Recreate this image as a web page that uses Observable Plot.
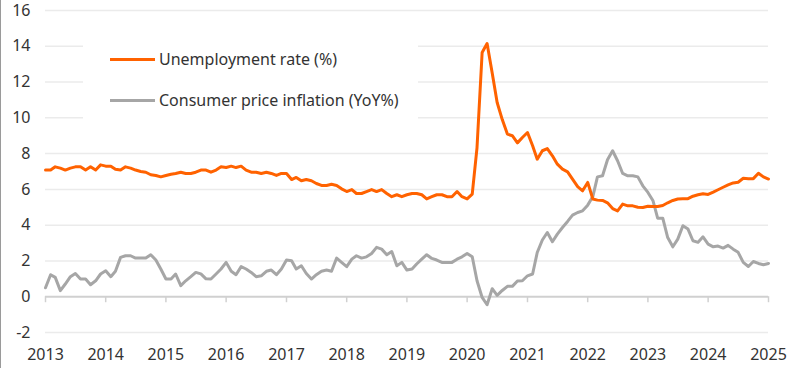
<!DOCTYPE html>
<html>
<head>
<meta charset="utf-8">
<script src="https://cdn.jsdelivr.net/npm/d3@7"></script>
<script src="https://cdn.jsdelivr.net/npm/@observablehq/plot@0.6"></script>
<style>
  body { margin: 0; background: #fff; }
  #wrap { position: relative; width: 800px; height: 368px; font-family: "Noto Sans", sans-serif; overflow: hidden; }
  #edge { position: absolute; left: 0; top: 0; width: 1px; height: 368px; background: #9a9a9a; }
  .legend { position: absolute; left: 83px; top: 22px; width: 335px; height: 106px; background: #fff; }
  .item { position: absolute; left: 27px; height: 22px; display: flex; align-items: center; font-size: 16px; color: #333; white-space: nowrap; }
  .sw { width: 45px; height: 3px; margin-right: 4px; }
</style>
</head>
<body>
<div id="wrap"></div>
<script>
// Series names
const seriesNames = ["Unemployment rate (%)", "Consumer price inflation (YoY%)"];
const seriesColors = ["#ff6200", "#a6a6a6"];

// Monthly observations, Jan 2013 .. Jan 2025
const startYear = 2013;
const unemployment = [
  7.08, 7.08, 7.26, 7.19, 7.08, 7.19, 7.26, 7.26, 7.08, 7.26, 7.08, 7.37, // 2013
  7.30, 7.30, 7.13, 7.08, 7.26, 7.19, 7.08, 7.00, 6.96, 6.82, 6.78, 6.70, // 2014
  6.78, 6.85, 6.89, 6.96, 6.89, 6.89, 6.96, 7.08, 7.08, 6.96, 7.08, 7.26, // 2015
  7.22, 7.30, 7.22, 7.30, 7.08, 6.96, 6.96, 6.89, 6.96, 6.89, 6.78, 6.89, // 2016
  6.89, 6.55, 6.67, 6.48, 6.55, 6.48, 6.33, 6.22, 6.22, 6.29, 6.22, 6.03, // 2017
  5.88, 5.99, 5.77, 5.77, 5.88, 5.99, 5.88, 5.99, 5.77, 5.59, 5.70, 5.59, // 2018
  5.70, 5.77, 5.77, 5.70, 5.47, 5.59, 5.70, 5.70, 5.59, 5.59, 5.88, 5.59, // 2019
  5.47, 5.74, 8.34, 13.65, 14.15, 12.50, 10.86, 9.90, 9.09, 9.00, 8.60, 8.90, // 2020
  9.18, 8.44, 7.69, 8.16, 8.28, 7.88, 7.41, 7.13, 6.98, 6.57, 6.15, 5.92, // 2021
  6.39, 5.46, 5.40, 5.38, 5.25, 4.93, 4.80, 5.18, 5.08, 5.08, 5.00, 4.99, // 2022
  5.06, 5.05, 5.04, 5.10, 5.25, 5.38, 5.46, 5.48, 5.48, 5.62, 5.70, 5.76, // 2023
  5.72, 5.85, 5.98, 6.12, 6.25, 6.36, 6.40, 6.62, 6.60, 6.60, 6.90, 6.70, // 2024
  6.58 // 2025
];
const inflation = [
  0.50, 1.23, 1.08, 0.34, 0.71, 1.12, 1.30, 0.99, 0.99, 0.67, 0.89, 1.27, // 2013
  1.45, 1.12, 1.42, 2.20, 2.29, 2.29, 2.16, 2.16, 2.16, 2.35, 2.05, 1.55, // 2014
  0.99, 0.99, 1.27, 0.62, 0.89, 1.12, 1.36, 1.28, 1.00, 0.99, 1.27, 1.55, // 2015
  1.92, 1.42, 1.23, 1.68, 1.55, 1.36, 1.12, 1.17, 1.42, 1.49, 1.23, 1.55, // 2016
  2.05, 2.01, 1.55, 1.73, 1.30, 0.99, 1.23, 1.42, 1.49, 1.42, 2.16, 1.92, // 2017
  1.68, 2.10, 2.29, 2.16, 2.23, 2.42, 2.76, 2.66, 2.35, 2.53, 1.73, 1.92, // 2018
  1.49, 1.55, 1.83, 2.10, 2.35, 2.14, 2.05, 1.92, 1.92, 1.92, 2.10, 2.23, // 2019
  2.42, 2.23, 0.89, -0.04, -0.45, 0.45, 0.08, 0.35, 0.58, 0.58, 0.88, 0.89, // 2020
  1.17, 1.27, 2.47, 3.17, 3.59, 3.07, 3.50, 3.87, 4.21, 4.56, 4.71, 4.80, // 2021
  5.12, 5.60, 6.70, 6.76, 7.66, 8.16, 7.60, 6.89, 6.76, 6.76, 6.70, 6.20, // 2022
  5.83, 5.36, 4.39, 4.39, 3.31, 2.79, 3.22, 3.97, 3.78, 3.13, 3.04, 3.35, // 2023
  2.94, 2.79, 2.83, 2.72, 2.87, 2.66, 2.48, 1.92, 1.69, 1.97, 1.86, 1.79, // 2024
  1.86 // 2025
];

// Tick labels
const xTickYears = [2013, 2014, 2015, 2016, 2017, 2018, 2019, 2020, 2021, 2022, 2023, 2024, 2025];
const yTicks = [-2, 0, 2, 4, 6, 8, 10, 12, 14, 16];

const monthDate = (i) => new Date(Date.UTC(startYear, i, 1));
const unempData = unemployment.map((v, i) => ({ date: monthDate(i), value: v }));
const cpiData = inflation.map((v, i) => ({ date: monthDate(i), value: v }));
const yearDates = xTickYears.map(y => new Date(Date.UTC(y, 0, 1)));

const font = '"Noto Sans", sans-serif';

const chart = Plot.plot({
  width: 800,
  height: 368,
  marginLeft: 45,
  marginRight: 32,
  marginTop: 10,
  marginBottom: 36,
  style: { fontFamily: font, fontSize: "16px", color: "#333", background: "#fff", overflow: "visible" },
  x: { type: "utc", domain: [yearDates[0], yearDates[yearDates.length - 1]] },
  y: { domain: [-2, 16] },
  marks: [
    Plot.ruleY(yTicks.filter(d => d !== 0), { stroke: "#ebebeb", strokeWidth: 1.5 }),
    Plot.ruleY([0], { stroke: "#d0d0d0", strokeWidth: 2 }),
    Plot.ruleX(yearDates, { x: d => d, y1: 0, y2: 0, insetBottom: -6, stroke: "#d0d0d0", strokeWidth: 1.5 }),
    Plot.axisY({ ticks: yTicks, tickSize: 0, tickPadding: 15, label: null,
      tickFormat: d => (d < 0 ? "-" + Math.abs(d) : String(d)), fill: "#333" }),
    Plot.axisX({ ticks: yearDates, tickSize: 0, tickPadding: 16, label: null,
      tickFormat: d => String(d.getUTCFullYear()), fill: "#333" }),
    Plot.lineY(cpiData, { x: "date", y: "value", stroke: seriesColors[1], strokeWidth: 3, strokeLinejoin: "round" }),
    Plot.lineY(unempData, { x: "date", y: "value", stroke: seriesColors[0], strokeWidth: 3, strokeLinejoin: "round" })
  ]
});

const wrap = document.getElementById("wrap");
wrap.appendChild(chart);

const legend = document.createElement("div");
legend.className = "legend";
seriesNames.forEach((name, k) => {
  const item = document.createElement("div");
  item.className = "item";
  item.style.top = (k === 0 ? 26 : 67) + "px";
  const sw = document.createElement("span");
  sw.className = "sw";
  sw.style.background = seriesColors[k];
  const label = document.createElement("span");
  label.textContent = name;
  item.appendChild(sw);
  item.appendChild(label);
  legend.appendChild(item);
});
wrap.appendChild(legend);

const edge = document.createElement("div");
edge.id = "edge";
wrap.appendChild(edge);
</script>
</body>
</html>
